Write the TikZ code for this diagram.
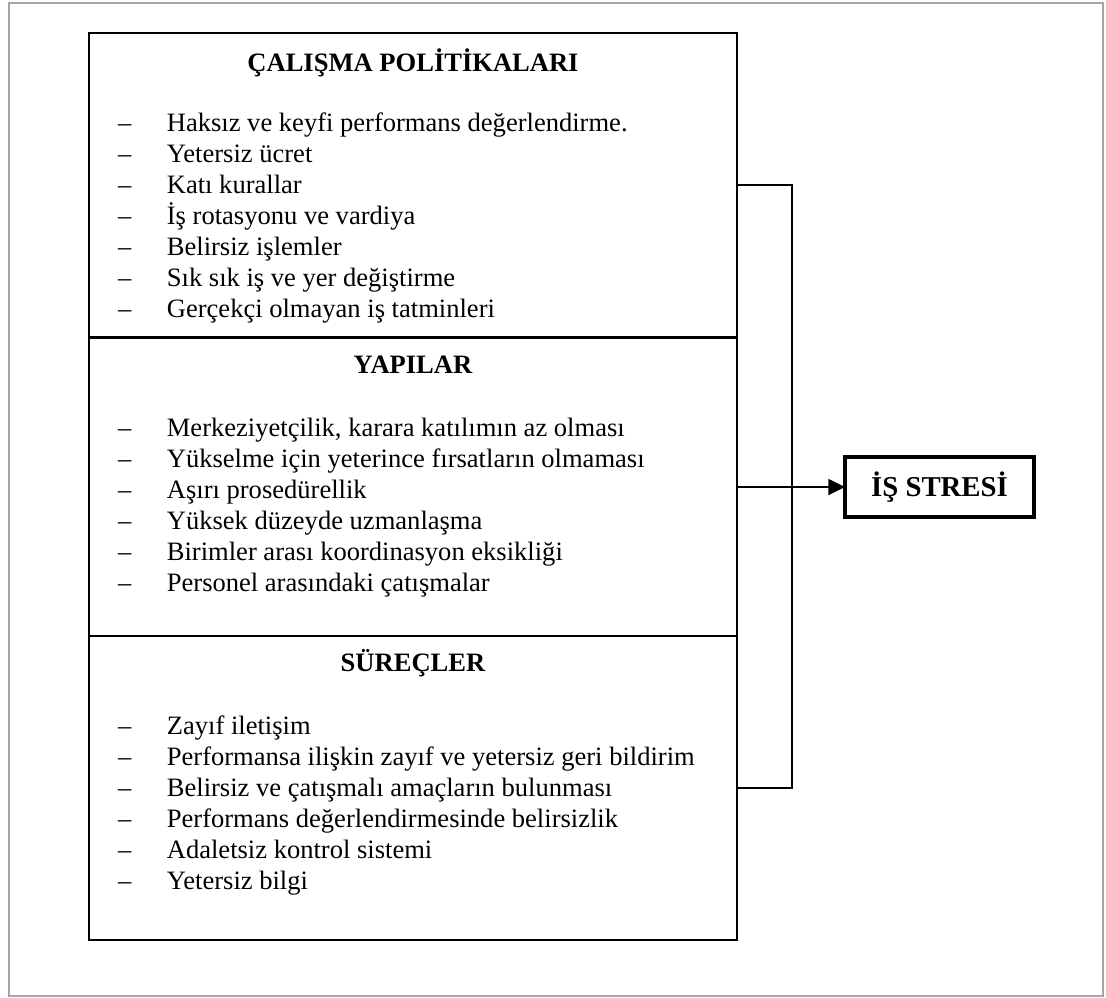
\documentclass[tikz,border=0pt]{standalone}
\usepackage{fontspec}
\setmainfont{Liberation Serif}
\usetikzlibrary{arrows.meta}

\newcommand{\itemdash}{\makebox[22.1pt][l]{–}}

\begin{document}
\begin{tikzpicture}
  [x=0.452pt,y=-0.452pt,
   every node/.style={font=\fontsize{12}{14}\selectfont,inner sep=0pt,outer sep=0pt},
   part/.style={draw,line width=0.9pt,minimum width=292.9pt},
   head/.style={font=\fontsize{12}{14}\selectfont\bfseries,anchor=base},
   item/.style={anchor=base west},
   result/.style={draw,line width=1.8pt,minimum width=85.4pt,minimum height=26.7pt,
                  font=\fontsize{13}{15}\selectfont\bfseries}]

  \useasboundingbox (0,0) rectangle (1106,997);
  \draw[gray!70,line width=0.7pt] (9,3) rectangle (1103,996);

  \node[part,minimum height=137.6pt] (s1) at (413,185.25) {};
  \node[part,minimum height=135.1pt] (s2) at (413,487)    {};
  \node[part,minimum height=137.2pt] (s3) at (413,788.25) {};

  \node[head] (h1) at (413,71.5)  {ÇALIŞMA POLİTİKALARI};
  \node[head] (h2) at (413,373.5) {YAPILAR};
  \node[head] (h3) at (413,671.5) {SÜREÇLER};

  \foreach \t [count=\i] in {Haksız ve keyfi performans değerlendirme.,Yetersiz ücret,
      Katı kurallar,İş rotasyonu ve vardiya,Belirsiz işlemler,
      Sık sık iş ve yer değiştirme,Gerçekçi olmayan iş tatminleri}
    \node[item] (a\i) at (118,{131+31*(\i-1)}) {\itemdash\t};

  \foreach \t [count=\i] in {{Merkeziyetçilik, karara katılımın az olması},
      Yükselme için yeterince fırsatların olmaması,Aşırı prosedürellik,
      Yüksek düzeyde uzmanlaşma,Birimler arası koordinasyon eksikliği,
      Personel arasındaki çatışmalar}
    \node[item] (b\i) at (118,{436+31*(\i-1)}) {\itemdash\t};

  \foreach \t [count=\i] in {Zayıf iletişim,Performansa ilişkin zayıf ve yetersiz geri bildirim,
      Belirsiz ve çatışmalı amaçların bulunması,Performans değerlendirmesinde belirsizlik,
      Adaletsiz kontrol sistemi,Yetersiz bilgi}
    \node[item] (c\i) at (118,{734+31*(\i-1)}) {\itemdash\t};

  \node[result] (stres) at (939.5,487) {İŞ STRESİ};

  \coordinate (brk) at (792,0);
  \draw[line width=0.9pt] (s1.east) -| (brk |- s3.east) -- (s3.east);
  \draw[line width=1.3pt,-{Triangle[length=7.5pt,width=7pt]}] (s2.east) -- (stres.west);

\end{tikzpicture}
\end{document}
